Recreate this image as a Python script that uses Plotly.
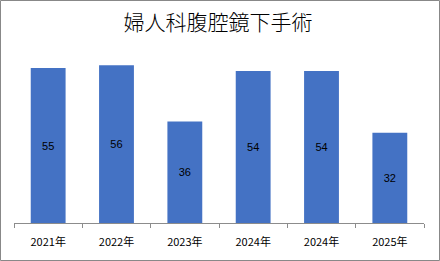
import plotly.graph_objects as go

categories = ["2021年", "2022年", "2023年", "2024年", "2024年", "2025年"]
values = [55, 56, 36, 54, 54, 32]
title = "婦人科腹腔鏡下手術"

W, H = 440, 261
L, R, T, B = 14, 16, 54, 38
pw, ph = W - L - R, H - T - B

xs = list(range(len(categories)))

fig = go.Figure(go.Bar(
    x=xs, y=values, width=0.51,
    marker=dict(color="#4472C4", line=dict(width=0)),
    text=[str(v) for v in values], textposition="inside",
    insidetextanchor="middle",
    textfont=dict(family="Liberation Sans, Noto Sans CJK JP", size=11, color="#000000"),
    constraintext="none",
    hoverinfo="skip",
))

fig.update_layout(
    width=W, height=H,
    margin=dict(l=L, r=R, t=T, b=B, pad=0),
    paper_bgcolor="white", plot_bgcolor="white",
    showlegend=False,
    title=dict(text=title, x=(218 - L) / pw, xref="paper", xanchor="center",
               y=1 - 23 / H, yanchor="middle",
               font=dict(family="Noto Sans CJK JP", size=21, color="#000000", weight=300)),
    xaxis=dict(
        range=[-0.5, len(categories) - 0.5],
        tickmode="array", tickvals=xs, ticktext=categories,
        ticks="outside", ticklen=9, tickcolor="rgba(0,0,0,0)",
        tickfont=dict(family="Noto Sans CJK JP", size=11, color="#000000"),
        showline=True, linecolor="#8c8c8c", linewidth=1,
        showgrid=False, zeroline=False, fixedrange=True,
        minor=dict(tickmode="array",
                   tickvals=[i - 0.5 for i in range(len(categories) + 1)],
                   ticks="outside", ticklen=4, tickcolor="#8c8c8c", tickwidth=1,
                   showgrid=False),
    ),
    yaxis=dict(range=[0, 60], visible=False, fixedrange=True),
    shapes=[dict(
        type="rect", xref="paper", yref="paper",
        x0=(0.5 - L) / pw, x1=(W - 0.5 - L) / pw,
        y0=(H - B - (H - 0.5)) / ph, y1=(H - B - 0.5) / ph,
        line=dict(color="#888888", width=1), fillcolor="rgba(0,0,0,0)",
        layer="above",
    )],
)

fig.write_html("out.html")
